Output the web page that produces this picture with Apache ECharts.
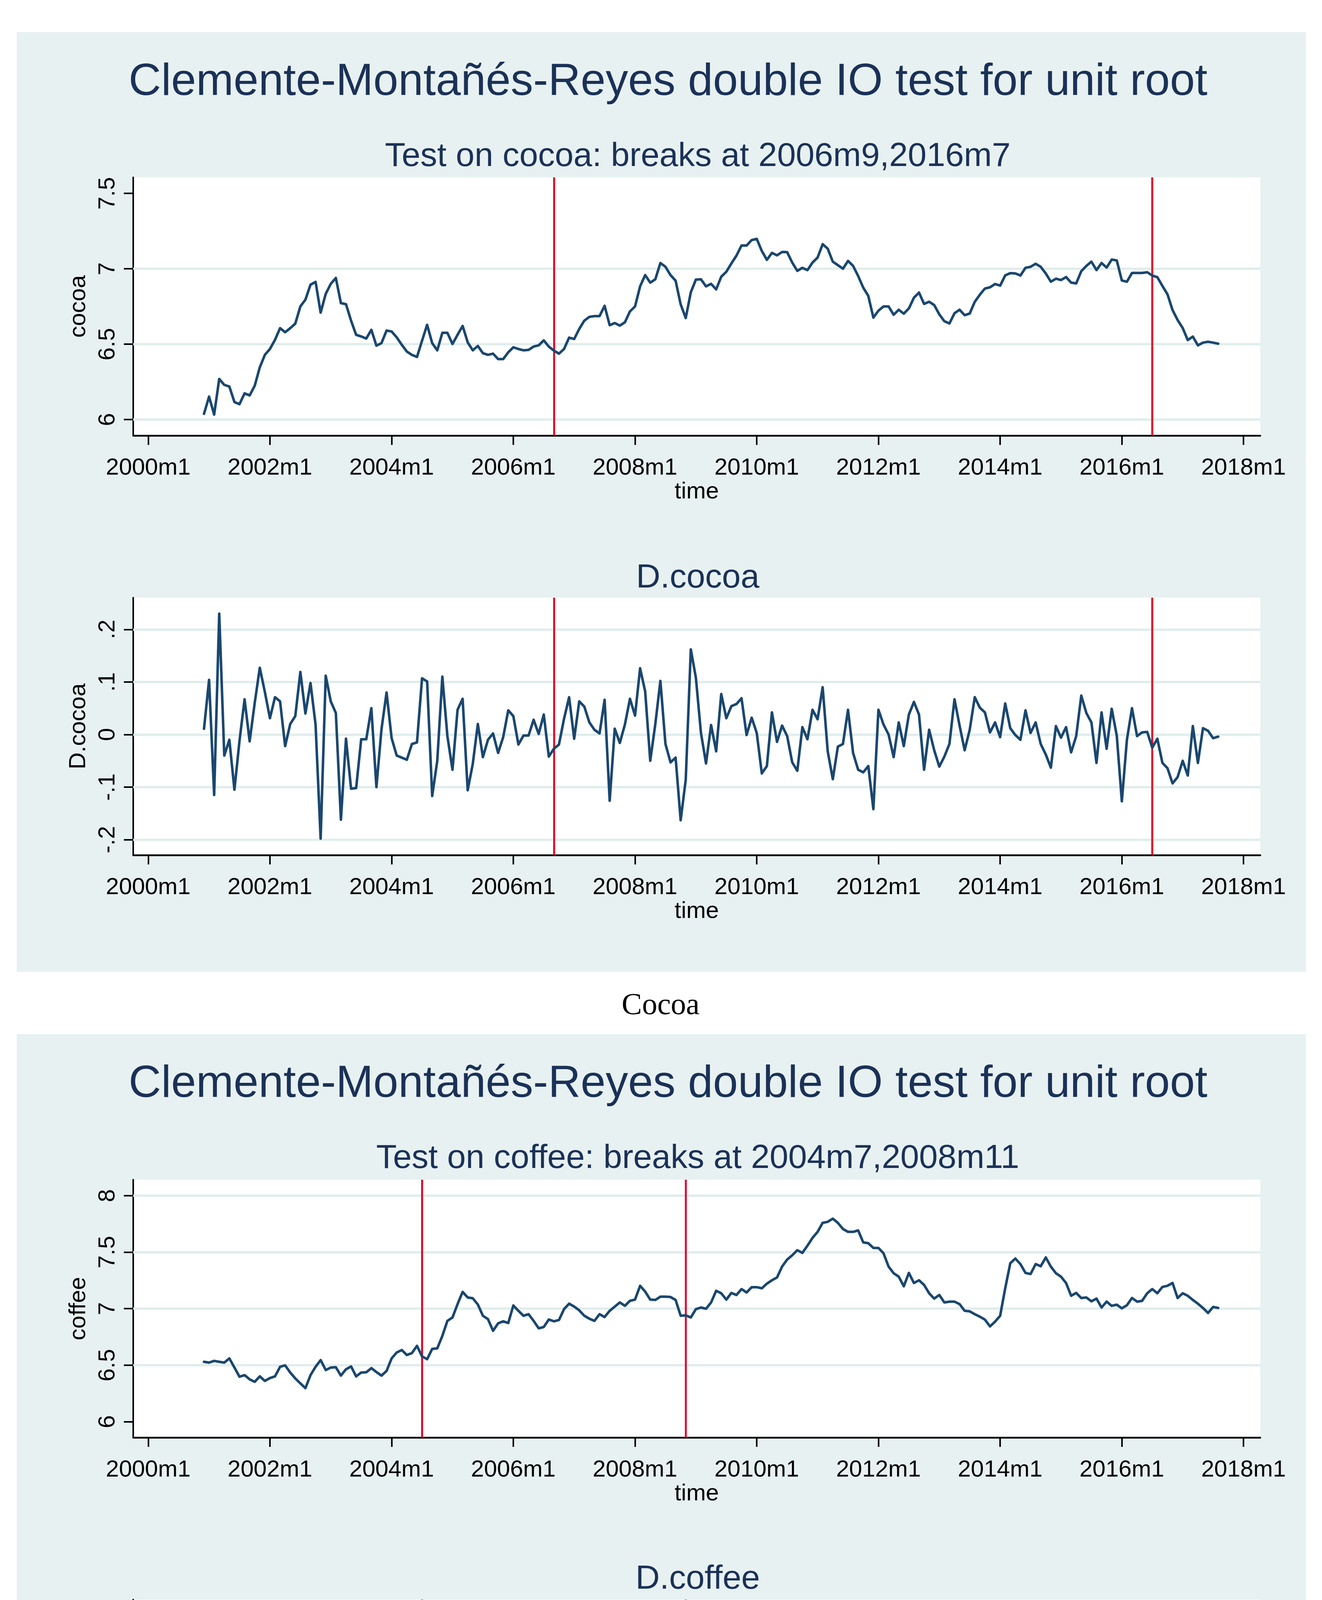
<!DOCTYPE html>
<html>
<head>
<meta charset="utf-8">
<script src="https://cdn.jsdelivr.net/npm/echarts@6/dist/echarts.min.js"></script>
<style>
html,body{margin:0;padding:0;background:#ffffff;}
#chart{width:3384px;height:5210px;}
</style>
</head>
<body>
<div id="chart"></div>
<script>
// ---------------- data (monthly, first observation 2000m12, last 2017m8) ----------------
const firstMonth = 11; // months after 2000m1 -> 2000m12

const cocoa = [
  6.038, 6.152, 6.033, 6.269, 6.230, 6.219, 6.116, 6.102, 6.174, 6.160,
  6.224, 6.346, 6.429, 6.468, 6.529, 6.606, 6.579, 6.606, 6.636, 6.750,
  6.795, 6.894, 6.913, 6.709, 6.833, 6.900, 6.939, 6.772, 6.765, 6.656,
  6.562, 6.551, 6.537, 6.595, 6.490, 6.507, 6.590, 6.584, 6.545, 6.496,
  6.451, 6.429, 6.415, 6.523, 6.628, 6.507, 6.459, 6.575, 6.575, 6.501,
  6.562, 6.621, 6.512, 6.459, 6.488, 6.440, 6.429, 6.437, 6.401, 6.401,
  6.446, 6.479, 6.468, 6.459, 6.462, 6.484, 6.492, 6.525, 6.484, 6.457,
  6.437, 6.468, 6.543, 6.534, 6.601, 6.656, 6.681, 6.686, 6.686, 6.754,
  6.626, 6.640, 6.623, 6.645, 6.717, 6.750, 6.883, 6.958, 6.908, 6.930,
  7.038, 7.013, 6.958, 6.921, 6.764, 6.673, 6.844, 6.928, 6.930, 6.883,
  6.900, 6.863, 6.947, 6.980, 7.035, 7.087, 7.154, 7.154, 7.190, 7.198,
  7.118, 7.059, 7.105, 7.089, 7.111, 7.110, 7.041, 6.986, 7.006, 6.991,
  7.041, 7.074, 7.163, 7.133, 7.047, 7.024, 7.000, 7.052, 7.019, 6.952,
  6.875, 6.820, 6.676, 6.722, 6.750, 6.750, 6.695, 6.728, 6.702, 6.737,
  6.808, 6.842, 6.767, 6.781, 6.759, 6.698, 6.652, 6.637, 6.705, 6.728,
  6.692, 6.703, 6.781, 6.828, 6.869, 6.877, 6.899, 6.888, 6.956, 6.971,
  6.969, 6.955, 7.006, 7.013, 7.033, 7.013, 6.969, 6.914, 6.934, 6.925,
  6.945, 6.908, 6.903, 6.984, 7.019, 7.047, 6.991, 7.038, 7.008, 7.061,
  7.055, 6.922, 6.914, 6.972, 6.972, 6.972, 6.977, 6.955, 6.944, 6.886,
  6.831, 6.726, 6.660, 6.607, 6.527, 6.550, 6.492, 6.510, 6.516, 6.510,
  6.503
];

const dCocoa = [
  0.011, 0.104, -0.115, 0.230, -0.040, -0.010, -0.105, -0.012, 0.067, -0.013,
  0.060, 0.127, 0.081, 0.031, 0.071, 0.063, -0.022, 0.020, 0.035, 0.119,
  0.040, 0.098, 0.019, -0.198, 0.112, 0.063, 0.041, -0.162, -0.008, -0.103,
  -0.102, -0.009, -0.009, 0.050, -0.100, 0.010, 0.080, -0.007, -0.040, -0.044,
  -0.048, -0.018, -0.015, 0.107, 0.101, -0.117, -0.050, 0.110, -0.003, -0.067,
  0.047, 0.068, -0.106, -0.056, 0.020, -0.043, -0.010, 0.002, -0.035, -0.005,
  0.046, 0.035, -0.019, -0.002, -0.002, 0.028, 0.001, 0.038, -0.042, -0.027,
  -0.019, 0.030, 0.071, -0.008, 0.063, 0.053, 0.023, 0.009, 0.002, 0.066,
  -0.126, 0.011, -0.016, 0.019, 0.068, 0.036, 0.126, 0.082, -0.050, 0.020,
  0.102, -0.018, -0.053, -0.044, -0.163, -0.086, 0.162, 0.108, 0.003, -0.055,
  0.018, -0.032, 0.077, 0.031, 0.054, 0.058, 0.069, -0.001, 0.032, 0.003,
  -0.074, -0.060, 0.042, -0.014, 0.017, -0.003, -0.053, -0.069, 0.014, -0.009,
  0.047, 0.029, 0.090, -0.032, -0.085, -0.023, -0.018, 0.047, -0.035, -0.067,
  -0.072, -0.060, -0.142, 0.047, 0.019, 0.000, -0.043, 0.023, -0.022, 0.038,
  0.062, 0.038, -0.067, 0.009, -0.030, -0.061, -0.042, -0.018, 0.067, 0.017,
  -0.030, 0.009, 0.071, 0.051, 0.042, 0.004, 0.023, -0.005, 0.059, 0.012,
  -0.001, -0.010, 0.046, 0.003, 0.023, -0.018, -0.038, -0.063, 0.016, -0.006,
  0.014, -0.034, -0.003, 0.074, 0.041, 0.023, -0.054, 0.042, -0.027, 0.049,
  -0.002, -0.127, -0.010, 0.050, -0.003, 0.004, 0.005, -0.025, -0.008, -0.054,
  -0.064, -0.093, -0.081, -0.050, -0.078, 0.016, -0.054, 0.012, 0.007, -0.007,
  -0.004
];

const coffee = [
  6.530, 6.523, 6.538, 6.530, 6.523, 6.560, 6.479, 6.398, 6.412, 6.375,
  6.353, 6.401, 6.361, 6.386, 6.401, 6.486, 6.498, 6.435, 6.383, 6.339,
  6.297, 6.412, 6.486, 6.545, 6.457, 6.479, 6.482, 6.408, 6.464, 6.489,
  6.401, 6.435, 6.437, 6.474, 6.439, 6.408, 6.449, 6.560, 6.612, 6.634,
  6.590, 6.607, 6.671, 6.578, 6.553, 6.644, 6.649, 6.759, 6.892, 6.922,
  7.040, 7.148, 7.099, 7.092, 7.037, 6.937, 6.907, 6.804, 6.870, 6.888,
  6.873, 7.028, 6.981, 6.937, 6.951, 6.892, 6.826, 6.838, 6.904, 6.888,
  6.900, 6.996, 7.044, 7.018, 6.985, 6.937, 6.911, 6.892, 6.951, 6.926,
  6.981, 7.018, 7.055, 7.025, 7.069, 7.080, 7.202, 7.151, 7.080, 7.077,
  7.106, 7.106, 7.103, 7.077, 6.937, 6.941, 6.922, 6.996, 7.010, 6.999,
  7.055, 7.158, 7.136, 7.080, 7.139, 7.121, 7.173, 7.143, 7.190, 7.190,
  7.180, 7.221, 7.251, 7.276, 7.372, 7.434, 7.472, 7.517, 7.493, 7.557,
  7.626, 7.679, 7.759, 7.768, 7.796, 7.759, 7.705, 7.679, 7.679, 7.692,
  7.586, 7.579, 7.537, 7.537, 7.490, 7.372, 7.313, 7.283, 7.198, 7.316,
  7.227, 7.251, 7.210, 7.136, 7.089, 7.121, 7.055, 7.062, 7.062, 7.040,
  6.981, 6.976, 6.951, 6.929, 6.903, 6.843, 6.885, 6.937, 7.180, 7.402,
  7.443, 7.394, 7.316, 7.306, 7.394, 7.375, 7.453, 7.372, 7.313, 7.283,
  7.227, 7.114, 7.139, 7.094, 7.099, 7.065, 7.089, 7.010, 7.062, 7.025,
  7.035, 7.003, 7.030, 7.094, 7.062, 7.069, 7.136, 7.173, 7.136, 7.192,
  7.202, 7.227, 7.094, 7.136, 7.114, 7.077, 7.044, 7.006, 6.962, 7.015,
  7.006
];

const dCoffee = [
  -0.082, -0.009, 0.016, -0.012, -0.008, 0.042, -0.083, -0.084, 0.018, -0.033,
  -0.027, 0.044, -0.038, 0.025, 0.011, 0.085, 0.033, -0.067, -0.049, -0.039,
  -0.044, 0.110, 0.084, 0.059, -0.088, 0.018, 0.007, -0.076, 0.051, 0.027,
  -0.085, 0.028, 0.010, 0.036, -0.031, -0.035, 0.037, 0.110, 0.045, 0.019,
  -0.038, 0.017, 0.063, -0.096, -0.001, 0.086, -0.006, 0.111, 0.144, 0.028,
  0.116, 0.107, -0.047, -0.008, -0.064, -0.105, -0.022, -0.099, 0.054, 0.030,
  -0.019, 0.156, -0.043, -0.049, 0.012, -0.059, -0.062, -0.004, 0.058, -0.013,
  0.011, 0.100, 0.040, -0.035, -0.023, -0.049, -0.023, -0.017, 0.051, -0.018,
  0.046, 0.032, 0.045, -0.035, 0.046, 0.011, 0.117, -0.053, -0.067, 0.003,
  0.019, 0.001, -0.006, -0.023, -0.141, 0.003, -0.018, 0.074, 0.003, -0.007,
  0.056, 0.111, -0.019, -0.062, 0.058, -0.012, 0.038, -0.021, 0.038, 0.003,
  -0.007, 0.042, 0.027, 0.024, 0.098, 0.059, 0.038, 0.050, -0.028, 0.068,
  0.055, 0.057, 0.084, 0.007, 0.023, -0.035, -0.059, -0.028, 0.006, 0.014,
  -0.106, -0.013, -0.036, 0.000, -0.054, -0.113, -0.051, -0.035, -0.091, 0.123,
  -0.093, 0.019, -0.036, -0.080, -0.046, 0.029, -0.057, 0.004, 0.002, -0.017,
  -0.067, -0.001, -0.027, -0.023, -0.029, -0.057, 0.027, 0.049, 0.268, 0.209,
  0.042, -0.044, -0.082, 0.003, 0.080, -0.014, 0.068, -0.073, -0.061, -0.028,
  -0.067, -0.113, 0.019, -0.040, 0.005, -0.038, 0.016, -0.071, 0.046, -0.038,
  0.005, -0.027, 0.022, 0.064, -0.026, 0.006, 0.062, 0.036, -0.029, 0.050,
  0.011, 0.027, -0.134, 0.038, -0.015, -0.038, -0.031, -0.035, -0.049, 0.043,
  -0.005
];

// break dates (months after 2000m1)
const cocoaBreaks = [80, 198];   // 2006m9, 2016m7
const coffeeBreaks = [54, 106];  // 2004m7, 2008m11

// x axis ticks
const xTickMonths = [0, 24, 48, 72, 96, 120, 144, 168, 192, 216];
const xTickLabels = ['2000m1','2002m1','2004m1','2006m1','2008m1','2010m1','2012m1','2014m1','2016m1','2018m1'];

// y axis ticks / labels / gridlines
const cocoaTicks = [6, 6.5, 7, 7.5];
const cocoaTickLabels = ['6', '6.5', '7', '7.5'];
const cocoaGrid = [6, 6.5, 7];
const dCocoaTicks = [-0.2, -0.1, 0, 0.1, 0.2];
const dCocoaTickLabels = ['-.2', '-.1', '0', '.1', '.2'];
const dCocoaGrid = [-0.2, -0.1, 0, 0.1, 0.2];
const coffeeTicks = [6, 6.5, 7, 7.5, 8];
const coffeeTickLabels = ['6', '6.5', '7', '7.5', '8'];
const coffeeGrid = [6.5, 7, 7.5, 8];
const dCoffeeTicks = [-0.1, 0, 0.1, 0.2, 0.3];
const dCoffeeTickLabels = ['-.1', '0', '.1', '.2', '.3'];
const dCoffeeGrid = [-0.1, 0, 0.1, 0.2, 0.3];

// texts
const mainTitle = 'Clemente-Montañés-Reyes double IO test for unit root';
const cocoaSubtitle = 'Test on cocoa: breaks at 2006m9,2016m7';
const coffeeSubtitle = 'Test on coffee: breaks at 2004m7,2008m11';

// ---------------- chart ----------------
const SANS = '"Liberation Sans", Arial, Helvetica, sans-serif';
const SERIF = '"Liberation Serif", "Times New Roman", serif';
const NAVY = '#1a476f';
const TITLE_COL = '#1a3158';
const PANEL = '#e8f1f1';
const GRIDCOL = '#e1eded';
const BREAKCOL = '#e6002b';

const chart = echarts.init(document.getElementById('chart'), null, {renderer: 'canvas', width: 3384, height: 5210});

function pairs(vals) { return vals.map((v, i) => [firstMonth + i, v]); }
function labelFrom(ticks, labels) {
  return function (v) {
    let best = -1, bd = 1e9;
    ticks.forEach((t, i) => { const d = Math.abs(t - v); if (d < bd) { bd = d; best = i; } });
    return bd < 1e-6 ? labels[best] : '';
  };
}

const plots = [
  {top: 454, height: 661, min: 5.894, max: 7.606, ticks: cocoaTicks, labels: cocoaTickLabels, grid: cocoaGrid, breaks: cocoaBreaks, data: cocoa, name: 'cocoa'},
  {top: 1530, height: 659, min: -0.2294, max: 0.2604, ticks: dCocoaTicks, labels: dCocoaTickLabels, grid: dCocoaGrid, breaks: cocoaBreaks, data: dCocoa, name: 'D.cocoa'},
  {top: 3020, height: 660, min: 5.8604, max: 8.1406, ticks: coffeeTicks, labels: coffeeTickLabels, grid: coffeeGrid, breaks: coffeeBreaks, data: coffee, name: 'coffee'},
  {top: 4095, height: 659, min: -0.1701, max: 0.3310, ticks: dCoffeeTicks, labels: dCoffeeTickLabels, grid: dCoffeeGrid, breaks: coffeeBreaks, data: dCoffee, name: 'D.coffee'}
];

const grids = [], xAxes = [], yAxes = [], series = [];
plots.forEach((p, i) => {
  grids.push({left: 341, top: p.top, width: 2885, height: p.height, show: true, backgroundColor: '#ffffff', borderWidth: 0, containLabel: false});
  xAxes.push({
    type: 'value', gridIndex: i, min: -2.96, max: 219.3,
    axisLine: {show: true, onZero: false, lineStyle: {color: '#000', width: 4.5}},
    axisTick: {show: true, customValues: xTickMonths, length: 24, lineStyle: {color: '#000', width: 4}},
    axisLabel: {show: true, customValues: xTickMonths, formatter: labelFrom(xTickMonths, xTickLabels), fontFamily: SANS, fontSize: 60, color: '#000', margin: 53},
    splitLine: {show: false},
    name: 'time', nameLocation: 'middle', nameGap: 114,
    nameTextStyle: {fontFamily: SANS, fontSize: 60, color: '#000'}
  });
  yAxes.push({
    type: 'value', gridIndex: i, min: p.min, max: p.max,
    axisLine: {show: true, onZero: false, lineStyle: {color: '#000', width: 4}},
    axisTick: {show: true, customValues: p.ticks, length: 24, lineStyle: {color: '#000', width: 4}},
    axisLabel: {show: true, customValues: p.ticks, formatter: labelFrom(p.ticks, p.labels), rotate: 90, fontFamily: SANS, fontSize: 60, color: '#000', margin: 35},
    splitLine: {show: false},
    name: p.name, nameLocation: 'middle', nameGap: 110, nameRotate: 90,
    nameTextStyle: {fontFamily: SANS, fontSize: 60, color: '#000'}
  });
  // gridlines (behind everything)
  series.push({
    type: 'line', xAxisIndex: i, yAxisIndex: i, data: pairs(p.data), showSymbol: false, silent: true,
    lineStyle: {opacity: 0, width: 0}, z: 1, animation: false,
    markLine: {silent: true, z: 1, symbol: ['none', 'none'], label: {show: false}, animation: false,
      lineStyle: {color: GRIDCOL, width: 6, type: 'solid'},
      data: p.grid.map(v => ({yAxis: v}))}
  });
  // break lines
  series.push({
    type: 'line', xAxisIndex: i, yAxisIndex: i, data: pairs(p.data), showSymbol: false, silent: true,
    lineStyle: {opacity: 0, width: 0}, z: 2, animation: false,
    markLine: {silent: true, z: 2, symbol: ['none', 'none'], label: {show: false}, animation: false,
      lineStyle: {color: BREAKCOL, width: 5, type: 'solid'},
      data: p.breaks.map(v => ({xAxis: v}))}
  });
  // data line
  series.push({
    type: 'line', xAxisIndex: i, yAxisIndex: i, data: pairs(p.data), showSymbol: false, symbol: 'none', silent: true,
    lineStyle: {color: NAVY, width: 6.5, join: 'round', cap: 'round'}, z: 10, animation: false
  });
});

function txt(x, y, text, size, family, color) {
  return {type: 'text', x: x, y: y, silent: true, z: 50,
    style: {text: text, font: size + 'px ' + family, fill: color, align: 'center', verticalAlign: 'middle', textAlign: 'center', textVerticalAlign: 'middle'}};
}

const graphicEls = [
  {type: 'rect', shape: {x: 43, y: 82, width: 3300, height: 2406}, style: {fill: PANEL}, z: -10, silent: true},
  {type: 'rect', shape: {x: 43, y: 2647, width: 3300, height: 2406}, style: {fill: PANEL}, z: -10, silent: true},
  txt(1710, 211, mainTitle, 115, SANS, TITLE_COL),
  txt(1786, 401, cocoaSubtitle, 86, SANS, TITLE_COL),
  txt(1786, 1480, 'D.cocoa', 86, SANS, TITLE_COL),
  txt(1691, 2576, 'Cocoa', 78, SERIF, '#000'),
  txt(1710, 2776, mainTitle, 115, SANS, TITLE_COL),
  txt(1786, 2966, coffeeSubtitle, 86, SANS, TITLE_COL),
  txt(1786, 4043, 'D.coffee', 86, SANS, TITLE_COL),
  txt(1691, 5141, 'Coffee', 78, SERIF, '#000')
];

chart.setOption({
  backgroundColor: '#ffffff',
  animation: false,
  grid: grids,
  xAxis: xAxes,
  yAxis: yAxes,
  series: series,
  graphic: {elements: graphicEls}
});
</script>
</body>
</html>
